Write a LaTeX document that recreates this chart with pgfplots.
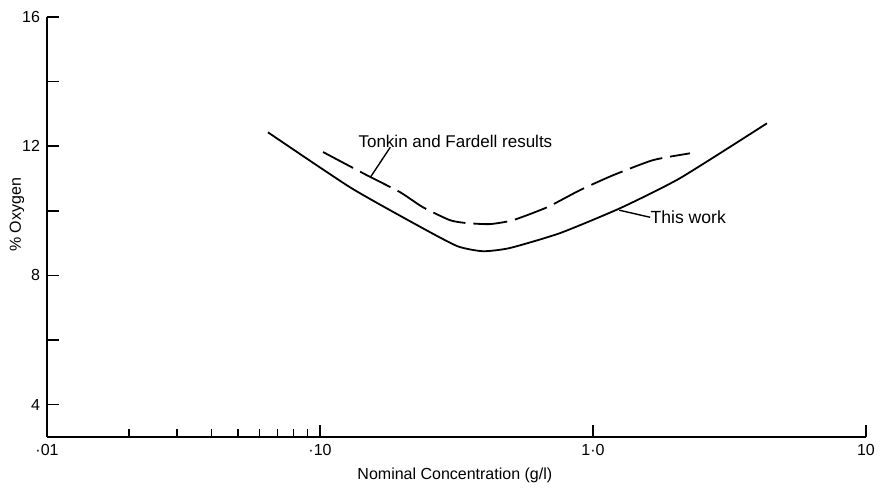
\documentclass[border=0pt]{standalone}
\usepackage{fontspec}
\setmainfont{Liberation Sans}
\usepackage{pgfplots}
\pgfplotsset{compat=1.18}
\begin{document}
\begin{tikzpicture}
\begin{axis}[
  xmode=log, scale only axis, width=409.5pt, height=210pt,
  xmin=0.01, xmax=10, ymin=3, ymax=16,
  axis x line=bottom, axis y line=left,
  axis line style={-, line width=0.9pt},
  tick align=inside,
  xtick={0.01,0.1,1,10}, xticklabels={·01,·10,1·0,10},
  minor xtick={0.02,0.03,0.04,0.05,0.06,0.07,0.08,0.09},
  ytick={4,6,8,10,12,14,16}, yticklabels={4,,8,,12,,16},
  major tick length=6pt, minor tick length=4pt,
  tick style={line width=0.8pt, black},
  font=\fontsize{8}{9}\selectfont,
  /pgf/number format/assume math mode=true,
  xlabel={Nominal Concentration (g/l)},
  ylabel={\% Oxygen},
  xlabel style={at={(rel axis cs:0.498,-0.0905)}, anchor=center},
  ylabel style={at={(rel axis cs:-0.0366,0.529)}, anchor=center},
  clip=false,
]
\addplot[black, line width=0.9pt, smooth, tension=0.35] coordinates {
  (0.0645,12.43) (0.1288,10.73) (0.2266,9.56) (0.3177,8.91) (0.3955,8.75)
  (0.4966,8.85) (0.757,9.31) (1.256,10.08) (2.083,11.01) (4.34,12.71)
};
\addplot[black, line width=0.9pt, smooth, tension=0.35, dash pattern=on 17pt off 4pt] coordinates {
  (0.1026,11.82) (0.1487,11.10) (0.1963,10.58) (0.2384,10.11) (0.2994,9.71)
  (0.3455,9.62) (0.4195,9.59) (0.509,9.71) (0.679,10.11) (0.896,10.64)
  (1.183,11.10) (1.660,11.57) (2.266,11.78)
};
\draw[line width=0.7pt] (axis cs:0.181,11.97) -- (axis cs:0.153,11.04);
\node[anchor=west, inner sep=0pt, font=\fontsize{8.5}{9}\selectfont] at (axis cs:0.138,12.16) {Tonkin and Fardell results};
\draw[line width=0.7pt] (axis cs:1.248,10.02) -- (axis cs:1.62,9.80);
\node[anchor=west, inner sep=0pt, font=\fontsize{8.8}{9}\selectfont] at (axis cs:1.62,9.80) {This work};
\end{axis}
\pgfresetboundingbox
\path (-23.5pt,-26.5pt) rectangle (418.5pt,218.5pt);
\end{tikzpicture}
\end{document}
